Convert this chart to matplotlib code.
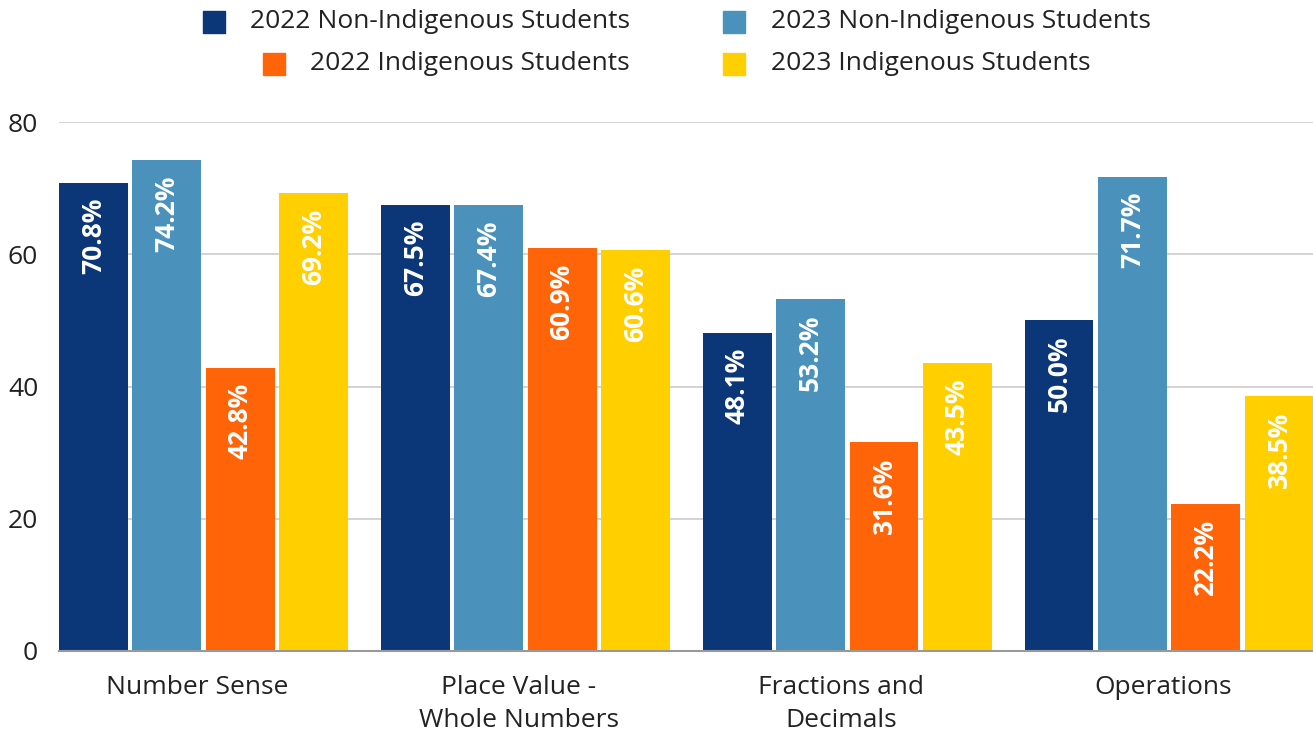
import matplotlib
matplotlib.use("Agg")
import matplotlib.pyplot as plt
from matplotlib.patches import Rectangle
import numpy as np

categories = ["Number Sense", "Place Value -\nWhole Numbers", "Fractions and\nDecimals", "Operations"]
series_names = ["2022 Non-Indigenous Students", "2023 Non-Indigenous Students",
                "2022 Indigenous Students", "2023 Indigenous Students"]
nonind_2022 = [70.8, 67.5, 48.1, 50.0]
nonind_2023 = [74.2, 67.4, 53.2, 71.7]
ind_2022 = [42.8, 60.9, 31.6, 22.2]
ind_2023 = [69.2, 60.6, 43.5, 38.5]
colors = ["#0B3678", "#4A92BC", "#FF6508", "#FFCF00"]
yticks = [0, 20, 40, 60, 80]

plt.rcParams['font.family'] = ['Open Sans', 'DejaVu Sans']

fig = plt.figure(figsize=(13.13, 7.36), dpi=100)
ax = fig.add_axes([59/1313, 85/736, 1 - 59/1313, (651-122)/736])

FS = 19
series = [nonind_2022, nonind_2023, ind_2022, ind_2023]
x = np.arange(len(categories))
step = 0.228
width = 0.214
for i, (vals, c) in enumerate(zip(series, colors)):
    pos = x + (i - 1.5) * step
    bars = ax.bar(pos, vals, width=width, color=c, zorder=3)
    for b, v in zip(bars, vals):
        ax.text(b.get_x() + b.get_width()/2, v - 2.3, f"{v:.1f}%",
                rotation=90, ha='center', va='top', color='white',
                fontsize=FS, fontweight='bold', zorder=4)

ax.set_xlim(-0.449, 3.447)
ax.set_ylim(0, 80)
ax.set_yticks(yticks)
ax.set_yticklabels([str(t) for t in yticks], fontsize=FS, color='#222222')
ax.set_xticks(x - 0.02)
ax.set_xticklabels(categories, fontsize=FS, color='#222222', linespacing=1.45)
ax.tick_params(axis='both', length=0)
ax.tick_params(axis='x', pad=17)
ax.tick_params(axis='y', pad=15)
ax.grid(axis='y', color='#cccccc', linewidth=1.2, zorder=0)
for s in ['top', 'right', 'left']:
    ax.spines[s].set_visible(False)
ax.spines['bottom'].set_color('#999999')
ax.spines['bottom'].set_linewidth(1.5)
ax.spines['bottom'].set_zorder(5)

# Legend (manual layout matching reference)
W, H = 1313, 736
legend_items = [
    (203, 22, 250, 0),
    (723, 22, 771, 1),
    (263, 64, 310, 2),
    (723, 64, 771, 3),
]
for mx, my, tx, idx in legend_items:
    fig.patches.append(Rectangle((mx/W, 1 - (my+11)/H), 22/W, 22/H,
                                 transform=fig.transFigure, color=colors[idx]))
    fig.text(tx/W, 1 - my/H, series_names[idx], fontsize=FS, color='#222222',
             ha='left', va='center')

fig.savefig("out.png", dpi=100)
